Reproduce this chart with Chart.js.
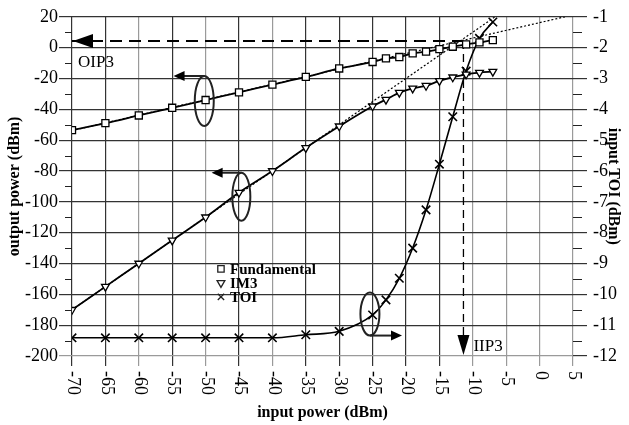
<!DOCTYPE html>
<html>
<head>
<meta charset="utf-8">
<script src="https://cdn.jsdelivr.net/npm/chart.js@4.4.1/dist/chart.umd.min.js"></script>
<style>
  html, body { margin: 0; padding: 0; background: #fff; }
  #wrap { width: 629px; height: 425px; }
</style>
</head>
<body>
<div id="wrap"><canvas id="myChart" width="629" height="425"></canvas></div>
<script>
// values
const inputPower  = [-70, -65, -60, -55, -50, -45, -40, -35, -30, -25, -23, -21, -19, -17, -15, -13, -11, -9, -7];
const fundamental = [-53.5, -49, -44, -39, -34, -29, -24, -19, -13.5, -9.3, -7, -6.1, -3.7, -2.6, -1, 0.6, 2.1, 3.4, 4.9];
const im3         = [-170, -155, -140, -125, -110, -94, -80, -65, -51, -38, -33.7, -29.2, -26.4, -24.7, -21.6, -19.2, -17.3, -16.2, -15.6];
const toi         = [-11.41, -11.41, -11.41, -11.41, -11.41, -11.41, -11.41, -11.31, -11.2, -10.67, -10.18, -9.48, -8.5, -7.26, -5.78, -4.24, -2.76, -1.7, -1.17];

// dotted extrapolation lines (slope 1 and slope 3)
const fundFitX = [-70, 3.8];
const fundFitY = [-53.8, 20];
const im3FitX  = [-70, -6.67];
const im3FitY  = [-170, 20];

const IIP3 = -11.4;
const OIP3 = 4.3;

// axis ranges / tick steps
const xRange  = [-70, 5, 5];
const yRange  = [-200, 20, 20];
const y2Range = [-12, -1, 1];
const greyX = [-60, -50, -40, -10, -5, 0, 5];

const SERIF = "'Liberation Serif', 'Times New Roman', serif";

function pts(xs, ys) {
  return xs.map(function(v, i) { return {x: v, y: ys[i]}; });
}

// draws minor ticks, rotated x labels, arrows, loops, labels and the legend
const overlay = {
  id: 'overlay',
  afterDraw(chart) {
    const ctx = chart.ctx;
    const x = chart.scales.x, y = chart.scales.y, y2 = chart.scales.y2;
    const area = chart.chartArea;
    ctx.save();
    ctx.strokeStyle = '#222';
    ctx.fillStyle = '#000';
    ctx.lineWidth = 1;

    // minor ticks
    ctx.beginPath();
    for (let v = yRange[0] + yRange[2] / 2; v < yRange[1]; v += yRange[2]) {
      const py = Math.round(y.getPixelForValue(v)) + 0.5;
      ctx.moveTo(area.left - 7, py); ctx.lineTo(area.left, py);
    }
    for (let v = y2Range[0] + 0.5; v < y2Range[1]; v += 1) {
      const py = Math.round(y2.getPixelForValue(v)) + 0.5;
      ctx.moveTo(area.right, py); ctx.lineTo(area.right + 9, py);
    }
    ctx.stroke();

    // x tick labels, rotated clockwise
    ctx.font = '18px ' + SERIF;
    ctx.textAlign = 'left';
    ctx.textBaseline = 'middle';
    x.ticks.forEach(function(t) {
      ctx.save();
      ctx.translate(x.getPixelForValue(t.value) + 1, area.bottom + 15);
      ctx.rotate(Math.PI / 2);
      ctx.fillText(String(t.value), 0, 0);
      ctx.restore();
    });

    function arrow(x0, y0, x1, y1, len, half) {
      const a = Math.atan2(y1 - y0, x1 - x0);
      ctx.beginPath();
      ctx.moveTo(x0, y0);
      ctx.lineTo(x1 - Math.cos(a) * len * 0.6, y1 - Math.sin(a) * len * 0.6);
      ctx.stroke();
      ctx.beginPath();
      ctx.moveTo(x1, y1);
      ctx.lineTo(x1 - Math.cos(a) * len - Math.sin(a) * half, y1 - Math.sin(a) * len + Math.cos(a) * half);
      ctx.lineTo(x1 - Math.cos(a) * len + Math.sin(a) * half, y1 - Math.sin(a) * len - Math.cos(a) * half);
      ctx.closePath();
      ctx.fill();
    }

    // OIP3 / IIP3 arrow heads
    const oy = y.getPixelForValue(OIP3);
    const ix = x.getPixelForValue(IIP3);
    ctx.beginPath();
    ctx.moveTo(area.left + 1, oy);
    ctx.lineTo(area.left + 21, oy - 7);
    ctx.lineTo(area.left + 21, oy + 7);
    ctx.closePath();
    ctx.fill();
    ctx.beginPath();
    ctx.moveTo(ix, area.bottom - 1);
    ctx.lineTo(ix - 6, area.bottom - 21);
    ctx.lineTo(ix + 6, area.bottom - 21);
    ctx.closePath();
    ctx.fill();

    ctx.font = '17px ' + SERIF;
    ctx.textBaseline = 'alphabetic';
    ctx.fillText('OIP3', area.left + 6, oy + 26);
    ctx.fillText('IIP3', ix + 10, area.bottom - 5);

    // axis-pointer loops
    ctx.lineWidth = 2;
    const loops = [
      {cx: -50.2, cy: y.getPixelForValue(-34.6), rx: 9.5, ry: 25, tip: -54.8, top: true},
      {cx: -44.65, cy: y.getPixelForValue(-96.7), rx: 9, ry: 24, tip: -49.1, top: true},
      {cx: -25.4, cy: y2.getPixelForValue(-10.64), rx: 9.5, ry: 21.5, tip: -20.6, top: false}
    ];
    loops.forEach(function(l) {
      const cx = x.getPixelForValue(l.cx);
      ctx.beginPath();
      ctx.ellipse(cx, l.cy, l.rx, l.ry, 0, 0, Math.PI * 2);
      ctx.stroke();
      const ay = l.top ? l.cy - l.ry : l.cy + l.ry;
      arrow(cx, ay, x.getPixelForValue(l.tip), ay, 11, 5);
    });

    // legend
    const lx = x.getPixelForValue(-47.7);
    const ly = y.getPixelForValue(-143.5);
    ctx.lineWidth = 1.3;
    ctx.font = 'bold 15px ' + SERIF;
    const items = [
      {label: 'Fundamental', style: 'rect', rot: 0},
      {label: 'IM3', style: 'triangle', rot: 180},
      {label: 'TOI', style: 'crossRot', rot: 0}
    ];
    items.forEach(function(it, i) {
      const py = ly + i * 14;
      ctx.fillStyle = '#fff';
      Chart.helpers.drawPoint(ctx, {pointStyle: it.style, rotation: it.rot, radius: 4.5, borderWidth: 1.3}, lx, py);
      ctx.fillStyle = '#000';
      ctx.fillText(it.label, lx + 9, py + 5);
    });
    ctx.restore();
  }
};

const markerBase = {
  borderColor: '#000',
  pointBackgroundColor: '#fff',
  pointBorderColor: '#000',
  pointBorderWidth: 1.3,
  borderWidth: 1.8,
  cubicInterpolationMode: 'monotone',
  fill: false
};

const ctx = document.getElementById('myChart').getContext('2d');
const myChart = new Chart(ctx, {
  type: 'line',
  data: {
    datasets: [
      Object.assign({}, markerBase, {
        label: 'Fundamental',
        data: pts(inputPower, fundamental),
        pointStyle: 'rect', pointRadius: 5, yAxisID: 'y'
      }),
      Object.assign({}, markerBase, {
        label: 'IM3',
        data: pts(inputPower, im3),
        pointStyle: 'triangle', pointRotation: 180, pointRadius: 4.5, yAxisID: 'y'
      }),
      Object.assign({}, markerBase, {
        label: 'TOI',
        data: pts(inputPower, toi),
        pointStyle: 'crossRot', pointRadius: 6, pointBorderWidth: 1.6, borderWidth: 1.6, yAxisID: 'y2'
      }),
      {
        label: 'fund fit', data: pts(fundFitX, fundFitY), yAxisID: 'y',
        borderColor: '#000', borderWidth: 1.2, borderDash: [2, 2], pointRadius: 0, tension: 0
      },
      {
        label: 'im3 fit', data: pts(im3FitX, im3FitY), yAxisID: 'y',
        borderColor: '#000', borderWidth: 1.2, borderDash: [2, 2], pointRadius: 0, tension: 0
      },
      {
        label: 'OIP3', data: pts([xRange[0], IIP3], [OIP3, OIP3]), yAxisID: 'y',
        borderColor: '#000', borderWidth: 2, borderDash: [12, 7], pointRadius: 0, tension: 0
      },
      {
        label: 'IIP3', data: pts([IIP3, IIP3], [OIP3, yRange[0] + 10]), yAxisID: 'y',
        borderColor: '#000', borderWidth: 1.3, borderDash: [8, 5], pointRadius: 0, tension: 0
      }
    ]
  },
  options: {
    responsive: false,
    animation: false,
    layout: { padding: { top: 16, left: 0, right: 0, bottom: 0 } },
    plugins: {
      legend: { display: false },
      tooltip: { enabled: false }
    },
    scales: {
      x: {
        type: 'linear',
        min: xRange[0], max: xRange[1],
        ticks: { stepSize: xRange[2], display: false },
        grid: {
          color: function(c) { return greyX.indexOf(c.tick.value) >= 0 ? '#9a9a9a' : '#333'; },
          tickLength: 10,
          lineWidth: 1.2
        },
        border: { display: false },
        title: {
          display: true, text: 'input power (dBm)', color: '#000',
          font: { family: SERIF, size: 16, weight: 'bold' },
          padding: { top: 0, bottom: 3 }
        },
        afterFit: function(s) { s.height = 69; }
      },
      y: {
        position: 'left',
        min: yRange[0], max: yRange[1],
        ticks: { stepSize: yRange[2], color: '#000', padding: 1, font: { family: SERIF, size: 18 } },
        grid: {
          color: function(c) { return c.tick.value === yRange[0] ? '#9a9a9a' : '#333'; },
          tickLength: 13,
          lineWidth: 1.2
        },
        border: { display: false },
        title: {
          display: true, text: 'output power (dBm)', color: '#000',
          font: { family: SERIF, size: 16, weight: 'bold' },
          padding: { top: 5, bottom: 0 }
        },
        afterFit: function(s) { s.width = 72; }
      },
      y2: {
        position: 'right',
        min: y2Range[0], max: y2Range[1],
        ticks: { stepSize: y2Range[2], color: '#000', padding: 6, font: { family: SERIF, size: 18 } },
        grid: { drawOnChartArea: false, color: '#333', tickLength: 14, lineWidth: 1.2 },
        border: { display: false },
        title: {
          display: true, text: 'input TOI (dBm)', color: '#000',
          font: { family: SERIF, size: 16, weight: 'bold' },
          padding: { top: 6, bottom: 0 }
        },
        afterFit: function(s) { s.width = 56; }
      }
    }
  },
  plugins: [overlay]
});
</script>
</body>
</html>
